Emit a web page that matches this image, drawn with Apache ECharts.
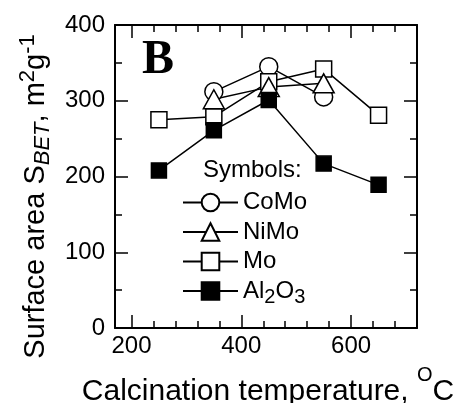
<!DOCTYPE html>
<html>
<head>
<meta charset="utf-8">
<script src="https://cdn.jsdelivr.net/npm/echarts@6/dist/echarts.min.js"></script>
<style>html,body{margin:0;padding:0;background:#fff}#c{width:454px;height:403px}</style>
</head>
<body>
<div id="c"></div>
<script>
var temps = [250, 350, 450, 550, 650];
var CoMo = [null, 312, 345, 305, null];
var NiMo = [null, 302, 318, 323, null];
var Mo = [275, 279, 325, 342, 281];
var Al2O3 = [208, 261, 301, 217, 189];
var xMajor = [200, 400, 600];
var xMinor = [240, 280, 320, 360, 440, 480, 520, 560, 640, 680];

function pairs(vals) {
  var out = [];
  for (var i = 0; i < temps.length; i++) if (vals[i] != null) out.push([temps[i], vals[i]]);
  return out;
}
var FONT = 'Liberation Sans';
var chart = echarts.init(document.getElementById('c'), null, {renderer: 'canvas'});
var lineStyle = {color: '#000', width: 1.5};
function mk(name, data, symbol, size, fill) {
  return {
    name: name, type: 'line', data: pairs(data), symbol: symbol, symbolSize: size,
    showAllSymbol: true,
    lineStyle: lineStyle,
    itemStyle: {color: fill, borderColor: '#000', borderWidth: 1.5},
    emphasis: {disabled: true}, animation: false
  };
}
var baseX = {type: 'value', min: 170, max: 720, splitLine: {show: false}};
var tickStyle = {color: '#000', width: 1.5};
chart.setOption({
  animation: false,
  grid: {left: 115, top: 25, width: 302, height: 303, containLabel: false, outerBoundsMode: 'none'},
  textStyle: {fontFamily: FONT},
  graphic: [
    {type: 'text', left: 142, top: 37, style: {text: 'B', font: 'bold 48px "Liberation Serif"', fill: '#000'}},
    {type: 'text', left: 203, top: 158, style: {text: 'Symbols:', font: '24px "Liberation Sans"', fill: '#000'}}
  ],
  legend: {
    orient: 'vertical', left: 182, top: 186, padding: 0,
    itemWidth: 55, itemHeight: 22, itemGap: -3.5,
    data: ['CoMo', 'NiMo', 'Mo', 'Al2O3'],
    textStyle: {
      fontSize: 24, color: '#000', fontFamily: FONT, lineHeight: 33,
      rich: {
        n: {fontSize: 24, fontFamily: FONT, color: '#000', lineHeight: 33},
        sub: {fontSize: 20, fontFamily: FONT, color: '#000', verticalAlign: 'bottom', lineHeight: 20}
      }
    },
    formatter: function (n) {
      if (n === 'Al2O3') return '{n|Al}{sub|2}{n|O}{sub|3}';
      return '{n|' + n + '}';
    },
    selectedMode: false
  },
  xAxis: [
    Object.assign({}, baseX, {
      position: 'bottom',
      axisLine: {show: true, lineStyle: {color: '#000', width: 2}},
      axisTick: {show: true, inside: true, length: 13, customValues: xMajor, lineStyle: tickStyle},
      axisLabel: {show: true, customValues: xMajor, fontSize: 24, color: '#000', fontFamily: FONT, margin: 6},
      name: 'Calcination temperature, {sup|O}C',
      nameLocation: 'middle', nameGap: 37,
      nameTextStyle: {
        fontSize: 30, color: '#000', fontFamily: FONT, lineHeight: 54, padding: [0, 0, 0, 4],
        rich: {sup: {fontSize: 20, fontFamily: FONT, color: '#000', verticalAlign: 'top', lineHeight: 20}}
      }
    }),
    Object.assign({}, baseX, {
      position: 'bottom',
      axisLine: {show: false},
      axisTick: {show: true, inside: true, length: 7, customValues: xMinor, lineStyle: tickStyle},
      axisLabel: {show: false}
    }),
    Object.assign({}, baseX, {
      position: 'top',
      axisLine: {show: true, lineStyle: {color: '#000', width: 2}},
      axisTick: {show: true, inside: true, length: 13, customValues: xMajor, lineStyle: tickStyle},
      axisLabel: {show: false}
    }),
    Object.assign({}, baseX, {
      position: 'top',
      axisLine: {show: false},
      axisTick: {show: true, inside: true, length: 7, customValues: xMinor, lineStyle: tickStyle},
      axisLabel: {show: false}
    })
  ],
  yAxis: [
    {
      type: 'value', position: 'left', min: 0, max: 400, interval: 100,
      splitLine: {show: false},
      axisLine: {show: true, lineStyle: {color: '#000', width: 2}},
      axisTick: {show: true, inside: true, length: 13, lineStyle: tickStyle},
      minorTick: {show: true, splitNumber: 2, length: 7, lineStyle: tickStyle},
      minorSplitLine: {show: false},
      axisLabel: {fontSize: 24, color: '#000', fontFamily: FONT, margin: 10},
      name: 'Surface area S{sub|BET}, m{sup|2}g{sup|-1}',
      nameLocation: 'middle', nameGap: 59, nameRotate: 90,
      nameTextStyle: {
        fontSize: 29, color: '#000', fontFamily: FONT, lineHeight: 37, padding: [0, 40, 0, 0],
        rich: {
          sub: {fontSize: 22, fontFamily: FONT, fontStyle: 'italic', color: '#000', verticalAlign: 'bottom', lineHeight: 22},
          sup: {fontSize: 22, fontFamily: FONT, color: '#000', verticalAlign: 'top', lineHeight: 22}
        }
      }
    },
    {
      type: 'value', position: 'right', min: 0, max: 400, interval: 100,
      splitLine: {show: false},
      axisLine: {show: true, lineStyle: {color: '#000', width: 2}},
      axisTick: {show: true, inside: true, length: 13, lineStyle: tickStyle},
      minorTick: {show: true, splitNumber: 2, length: 7, lineStyle: tickStyle},
      axisLabel: {show: false}
    }
  ],
  series: [
    mk('CoMo', CoMo, 'circle', 18, '#fff'),
    mk('Mo', Mo, 'rect', 16, '#fff'),
    mk('NiMo', NiMo, 'triangle', [21, 19], '#fff'),
    mk('Al2O3', Al2O3, 'rect', 15, '#000')
  ]
});
</script>
</body>
</html>
